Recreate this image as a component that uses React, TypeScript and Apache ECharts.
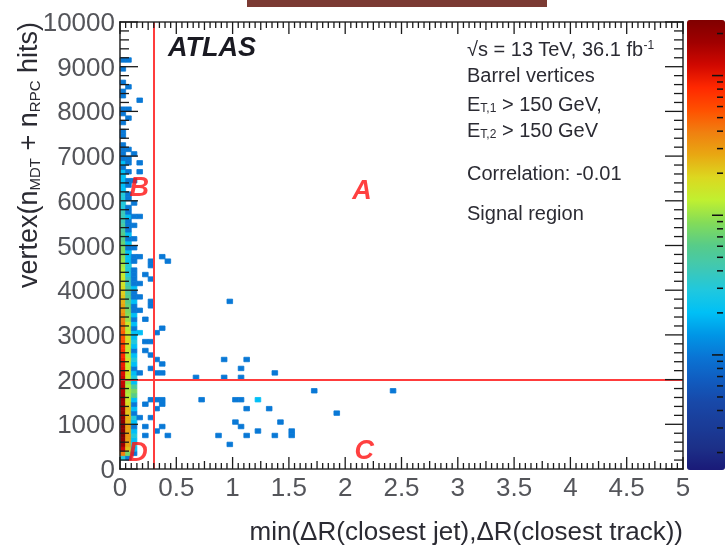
import React, { useEffect, useRef } from 'react';
import * as echarts from 'echarts';

// ---------- data ----------
const X_BIN = 0.05;
const Y_BIN = 100;
const X_MIN = 0, X_MAX = 5, X_STEP = 0.5;
const Y_MIN = 0, Y_MAX = 10000, Y_STEP = 1000;
const Z_MIN = 0.15, Z_MAX = 250;

// counts per 100-hit y bin (index 0..99) for the first three ΔR columns
const COL_X = [0, 0.05, 0.1];
const COL0 = [0, 0, 3, 40, 120, 180, 220, 250, 230, 240, 220, 200, 210, 190, 170, 180, 160, 150, 140, 130, 120, 110, 100, 95, 90, 80, 75, 70, 60, 55, 50, 45, 42, 38, 35, 30, 28, 25, 22, 20, 18, 16, 15, 14, 12, 11, 10, 9, 8, 8, 7, 6, 6, 5, 5, 4, 4, 4, 3, 3, 3, 3, 2, 2, 2, 2, 2, 1, 2, 1, 1, 1, 1, 0, 1, 1, 0, 1, 0, 1, 1, 0, 0, 1, 1, 0, 1, 0, 0, 1, 0, 1, 0, 0, 0, 0, 0, 0, 0, 0];
const COL1 = [0, 0, 1, 8, 22, 28, 30, 32, 28, 30, 25, 26, 22, 24, 18, 16, 12, 11, 12, 10, 15, 18, 15, 14, 16, 12, 14, 15, 18, 16, 14, 12, 15, 10, 9, 8, 7, 6, 6, 5, 5, 4, 4, 3, 3, 3, 2, 2, 2, 1, 2, 1, 2, 1, 1, 1, 2, 1, 1, 0, 1, 1, 0, 1, 1, 0, 1, 0, 1, 1, 0, 1, 0, 0, 0, 0, 0, 0, 1, 0, 1, 0, 0, 0, 0, 1, 0, 0, 0, 0, 0, 1, 0, 0, 0, 0, 0, 0, 0, 0];
const COL2 = [0, 0, 0, 1, 2, 3, 2, 3, 2, 1, 2, 3, 1, 2, 1, 2, 6, 8, 5, 2, 3, 2, 1, 2, 3, 2, 1, 2, 3, 2, 2, 1, 2, 1, 2, 1, 1, 2, 1, 1, 2, 1, 1, 1, 1, 0, 1, 1, 0, 1, 0, 1, 0, 0, 1, 0, 1, 0, 0, 1, 0, 0, 0, 0, 1, 0, 0, 0, 0, 0, 1, 0, 0, 0, 0, 0, 0, 0, 0, 0, 0, 0, 0, 0, 0, 0, 0, 0, 0, 0, 0, 0, 0, 0, 0, 0, 0, 0, 0, 0];

// isolated filled bins: [ΔR bin low edge, hits bin low edge, count]
const SPARSE: [number, number, number][] = [
  [0.15, 8200, 1], [0.15, 6800, 1], [0.15, 6600, 1], [0.15, 5600, 1],
  [0.15, 4700, 1], [0.25, 4600, 1], [0.35, 4700, 1], [0.4, 4600, 1], [0.25, 4500, 1],
  [0.2, 4300, 1], [0.25, 4200, 1], [0.15, 4100, 1], [0.15, 3800, 1], [0.25, 3700, 1],
  [0.95, 3700, 1], [0.25, 3600, 1], [0.15, 3500, 1], [0.2, 3300, 1], [0.35, 3100, 1],
  [0.15, 3000, 2], [0.3, 3000, 1], [0.2, 2800, 1], [0.25, 2800, 1], [0.2, 2600, 1], [0.25, 2500, 1],
  [0.3, 2400, 1], [0.35, 2300, 1], [0.9, 2400, 1], [1.1, 2400, 1], [1.05, 2200, 1], [0.25, 2200, 1],
  [0.35, 2100, 1], [0.15, 2100, 1], [0.3, 2100, 1], [1.35, 2100, 1], [0.65, 2000, 1], [0.9, 2000, 1], [1.05, 2000, 1],
  [1.7, 1700, 1], [2.4, 1700, 1],
  [0.25, 1500, 1], [0.3, 1500, 1], [0.35, 1500, 1], [0.7, 1500, 1], [1.0, 1500, 1], [1.05, 1500, 1], [1.2, 1500, 2],
  [0.2, 1400, 1], [0.35, 1400, 1], [0.3, 1300, 1], [1.1, 1300, 1], [1.3, 1300, 1], [1.9, 1200, 1],
  [0.15, 1100, 1], [0.25, 1100, 1], [1.4, 1000, 1], [1.0, 1000, 1], [0.2, 900, 1], [0.35, 900, 1], [1.05, 900, 1],
  [0.3, 800, 1], [0.4, 700, 1], [0.2, 700, 1], [1.2, 800, 1], [1.5, 800, 1], [1.1, 700, 1], [1.35, 700, 1],
  [1.5, 700, 1], [0.85, 700, 1], [0.95, 500, 1],
];

// axis tick values (frame ticks drawn through the axes' scales)
const X_MAJOR_TICKS = [0, 0.5, 1, 1.5, 2, 2.5, 3, 3.5, 4, 4.5, 5];
const X_MINOR_STEP = 0.05;
const Y_MAJOR_TICKS = [0, 1000, 2000, 3000, 4000, 5000, 6000, 7000, 8000, 9000, 10000];
const Y_MINOR_STEP = 200;
const Z_MAJOR_TICKS = [1, 10, 100];
const Z_MINOR_TICKS = [0.2, 0.3, 0.4, 0.5, 0.6, 0.7, 0.8, 0.9, 2, 3, 4, 5, 6, 7, 8, 9, 20, 30, 40, 50, 60, 70, 80, 90, 200];

const CUT_X = 0.3;
const CUT_Y = 2000;
const REGION_NAMES = ['A', 'B', 'C', 'D'];
const REGION_POS: [number, number][] = [[2.15, 6240], [0.17, 6300], [2.17, 420], [0.16, 380]];

const X_TITLE = 'min(ΔR(closest jet),ΔR(closest track))';
const Y_TITLE = 'vertex(n{sub|MDT} + n{sub|RPC} hits)';
const INFO_LINES = [
  '√s = 13 TeV, 36.1 fb{sup|-1}',
  'Barrel vertices',
  'E{sub|T,1} > 150 GeV,',
  'E{sub|T,2} > 150 GeV',
  'Correlation: -0.01',
  'Signal region',
];

const PALETTE = [
  '#1a1a78', '#1c3088', '#1a3c98', '#1848a8', '#105cc0', '#0a74d4', '#0096e6', '#00c0f6',
  '#20c8de', '#40c8b2', '#58cc88', '#84dc58', '#c0f030', '#dcd820', '#e8a812', '#f08010',
  '#ff5000', '#ff2800', '#d00800', '#a00000', '#800000',
];

const FONT = 'Liberation Sans, Arial, sans-serif';
const TEXT_COLOR = '#2b2b33';
const TICK_COLOR = '#1a1a1a';

function buildCells() {
  const cells: number[][] = [];
  [COL0, COL1, COL2].forEach((col, c) => {
    col.forEach((n, i) => {
      if (n > 0) cells.push([COL_X[c], i * Y_BIN, Math.log10(n), n]);
    });
  });
  SPARSE.forEach(([x, y, n]) => cells.push([x, y, Math.log10(n), n]));
  return cells;
}

// [value, kind, length]; kind 0 = x tick, 1 = y tick, 2 = frame
function buildFrameTicks() {
  const items: number[][] = [[0, 2, 0]];
  X_MAJOR_TICKS.forEach((v) => items.push([v, 0, 12]));
  for (let i = 0; i < X_MAJOR_TICKS.length - 1; i++) {
    const a = X_MAJOR_TICKS[i];
    const n = Math.round((X_MAJOR_TICKS[i + 1] - a) / X_MINOR_STEP);
    for (let k = 1; k < n; k++) items.push([a + k * X_MINOR_STEP, 0, k === n / 2 ? 8 : 6]);
  }
  Y_MAJOR_TICKS.forEach((v) => items.push([v, 1, 18]));
  for (let i = 0; i < Y_MAJOR_TICKS.length - 1; i++) {
    const a = Y_MAJOR_TICKS[i];
    const n = Math.round((Y_MAJOR_TICKS[i + 1] - a) / Y_MINOR_STEP);
    for (let k = 1; k < n; k++) items.push([a + k * Y_MINOR_STEP, 1, 9]);
  }
  return items;
}

function buildColorTicks() {
  const items: number[][] = [];
  Z_MAJOR_TICKS.forEach((v) => items.push([1, v, 11]));
  Z_MINOR_TICKS.forEach((v) => items.push([1, v, 6]));
  return items;
}

export default function App() {
  const ref = useRef<HTMLDivElement>(null);
  useEffect(() => {
    if (!ref.current) return;
    const chart = echarts.init(ref.current, undefined, { renderer: 'svg' });
    const infoY = [49, 75, 104, 130, 173, 213];
    const valueAxis = (pos: string, labels: boolean, range: any) => ({
      type: 'value', gridIndex: 0, position: pos, ...range,
      axisLine: { show: false },
      axisTick: { show: false },
      axisLabel: labels ? { show: true, fontSize: 26, margin: 5, formatter: (v: number) => String(v) } : { show: false },
      splitLine: { show: false },
    });
    const xr = { min: X_MIN, max: X_MAX, interval: X_STEP };
    const yr = { min: Y_MIN, max: Y_MAX, interval: Y_STEP };
    const tickFill = { fill: TICK_COLOR };
    const frameFill = { fill: '#333333' };
    const TW = 1.3;
    const FW = 1.6;
    const option: any = {
      animation: false,
      textStyle: { fontFamily: FONT, color: TEXT_COLOR },
      grid: [
        { left: 120, top: 22, width: 563, height: 447, show: false },
        { left: 687, top: 20, width: 38, height: 450, show: false },
      ],
      xAxis: [
        valueAxis('bottom', true, xr),
        valueAxis('top', false, xr),
        { type: 'value', gridIndex: 1, show: false, min: 0, max: 1 },
      ],
      yAxis: [
        valueAxis('left', true, yr),
        valueAxis('right', false, yr),
        { type: 'log', logBase: 10, gridIndex: 1, min: Z_MIN, max: Z_MAX, show: false },
      ],
      visualMap: {
        type: 'continuous', seriesIndex: 0, dimension: 2,
        min: Math.log10(Z_MIN), max: Math.log10(Z_MAX),
        left: 687, top: 20, itemWidth: 38, itemHeight: 450, padding: 0,
        calculable: false, inRange: { color: PALETTE },
      },
      series: [
        {
          type: 'custom',
          xAxisIndex: 0, yAxisIndex: 0,
          z: 2,
          data: buildCells(),
          encode: { x: 0, y: 1 },
          renderItem: (params: any, api: any) => {
            const x = api.value(0);
            const y = api.value(1);
            const p0 = api.coord([x, y]);
            const p1 = api.coord([x + X_BIN, y + Y_BIN]);
            const color = api.visual('color');
            return {
              type: 'rect',
              shape: { x: p0[0], y: p1[1], width: p1[0] - p0[0], height: p0[1] - p1[1] },
              style: { fill: color, stroke: color, lineWidth: 0.8 },
            };
          },
        },
        {
          type: 'scatter',
          xAxisIndex: 0, yAxisIndex: 0,
          symbolSize: 0,
          silent: true,
          z: 3,
          data: REGION_NAMES.map((n, i) => ({ name: n, value: REGION_POS[i] })),
          label: {
            show: true, position: 'inside', formatter: '{b}',
            fontSize: 27, fontWeight: 'bold', fontStyle: 'italic', color: '#ff1010',
          },
          markLine: {
            silent: true, symbol: 'none', label: { show: false },
            lineStyle: { color: '#ff3c3c', width: 2, type: 'solid' },
            data: [{ xAxis: CUT_X }, { yAxis: CUT_Y }],
          },
        },
        {
          type: 'custom',
          xAxisIndex: 0, yAxisIndex: 0,
          z: 5, silent: true, clip: false,
          data: buildFrameTicks(),
          encode: { x: 0, y: 1 },
          renderItem: (params: any, api: any) => {
            const v = api.value(0);
            const kind = api.value(1);
            const len = api.value(2);
            if (kind === 2) {
              const a = api.coord([X_MIN, Y_MIN]);
              const b = api.coord([X_MAX, Y_MAX]);
              const w = b[0] - a[0];
              const h = a[1] - b[1];
              return {
                type: 'group',
                children: [
                  { type: 'rect', shape: { x: a[0] - FW / 2, y: b[1] - FW / 2, width: w + FW, height: FW }, style: frameFill },
                  { type: 'rect', shape: { x: a[0] - FW / 2, y: a[1] - FW / 2, width: w + FW, height: FW }, style: frameFill },
                  { type: 'rect', shape: { x: a[0] - FW / 2, y: b[1] - FW / 2, width: FW, height: h + FW }, style: frameFill },
                  { type: 'rect', shape: { x: b[0] - FW / 2, y: b[1] - FW / 2, width: FW, height: h + FW }, style: frameFill },
                ],
              };
            }
            if (kind === 0) {
              const a = api.coord([v, Y_MIN]);
              const b = api.coord([v, Y_MAX]);
              return {
                type: 'group',
                children: [
                  { type: 'rect', shape: { x: a[0] - TW / 2, y: a[1] - len, width: TW, height: len }, style: tickFill },
                  { type: 'rect', shape: { x: b[0] - TW / 2, y: b[1], width: TW, height: len }, style: tickFill },
                ],
              };
            }
            const a = api.coord([X_MIN, v]);
            const b = api.coord([X_MAX, v]);
            return {
              type: 'group',
              children: [
                { type: 'rect', shape: { x: a[0], y: a[1] - TW / 2, width: len, height: TW }, style: tickFill },
                { type: 'rect', shape: { x: b[0] - len, y: b[1] - TW / 2, width: len, height: TW }, style: tickFill },
              ],
            };
          },
        },
        {
          type: 'custom',
          xAxisIndex: 2, yAxisIndex: 2,
          z: 6, silent: true, clip: false,
          data: buildColorTicks(),
          renderItem: (params: any, api: any) => {
            const p = api.coord([api.value(0), api.value(1)]);
            const len = api.value(2);
            return {
              type: 'line',
              shape: { x1: p[0] - 2, y1: p[1], x2: p[0] - 2 - len, y2: p[1] },
              style: { stroke: '#111111', lineWidth: 1.5 },
            };
          },
        },
      ],
      graphic: [
        { type: 'rect', shape: { x: 247, y: 0, width: 300, height: 7 }, style: { fill: '#7b3a33' } },
        {
          type: 'text', x: 168, y: 47,
          style: { text: 'ATLAS', fontSize: 27, fontWeight: 'bold', fontStyle: 'italic', fontFamily: FONT, fill: '#1a1a22', verticalAlign: 'middle' },
        },
        ...INFO_LINES.map((t, i) => ({
          type: 'text', x: 467, y: infoY[i],
          style: {
            text: t, fontSize: 20, fontFamily: FONT, fill: TEXT_COLOR, verticalAlign: 'middle',
            rich: {
              sub: { fontSize: 12, fontFamily: FONT, fill: TEXT_COLOR, verticalAlign: 'bottom', padding: [8, 0, 0, 0] },
              sup: { fontSize: 12, fontFamily: FONT, fill: TEXT_COLOR, verticalAlign: 'top', padding: [0, 0, 8, 0] },
            },
          },
        })),
        {
          type: 'text', x: 683, y: 531,
          style: { text: X_TITLE, fontSize: 26, fontFamily: FONT, fill: TEXT_COLOR, align: 'right', verticalAlign: 'middle' },
        },
        {
          type: 'text', x: 28, y: 22, rotation: Math.PI / 2,
          style: {
            text: Y_TITLE, fontSize: 27, fontFamily: FONT, fill: TEXT_COLOR, align: 'right', verticalAlign: 'middle',
            rich: {
              sub: { fontSize: 15, fontFamily: FONT, fill: TEXT_COLOR, verticalAlign: 'bottom', padding: [10, 0, 0, 0] },
            },
          },
        },
      ],
    };
    chart.setOption(option);
    return () => chart.dispose();
  }, []);
  return <div ref={ref} style={{ position: 'fixed', left: 0, top: 0, width: 725, height: 554 }} />;
}
